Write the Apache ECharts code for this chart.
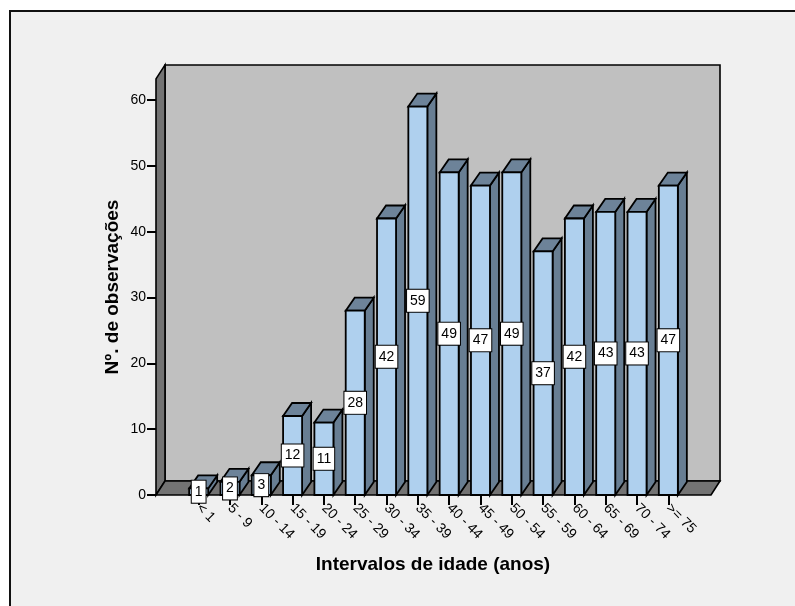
<!DOCTYPE html>
<html>
<head>
<meta charset="utf-8">
<script src="https://cdn.jsdelivr.net/npm/echarts@6/dist/echarts.min.js"></script>
<style>
  html, body { margin: 0; padding: 0; background: #ffffff; }
  #chart { width: 795px; height: 606px; }
</style>
</head>
<body>
<div id="chart"></div>
<script>
// Age groups and number of observations in each
const categories = ['< 1', '5 - 9', '10 - 14', '15 - 19', '20 - 24', '25 - 29', '30 - 34', '35 - 39',
                    '40 - 44', '45 - 49', '50 - 54', '55 - 59', '60 - 64', '65 - 69', '70 - 74', '>= 75'];
const counts = [1, 2, 3, 12, 11, 28, 42, 59, 49, 47, 49, 37, 42, 43, 43, 47];
const yMin = 0;
const yMax = 60;
const yStep = 10;

const FONT = '"Liberation Sans", Arial, Helvetica, sans-serif';

// 3D look: depth offset of walls and bars, in pixels
const WALL_DX = 9, WALL_DY = -14;
const BAR_DX = 9, BAR_DY = -13;
const FLOOR_PAD = 27;      // floor extends past the outer category bands
const WALL_TOP = 63.2;     // front edge of the left wall, in axis units
const BAR_RATIO = 0.607;   // front face width as a share of the band

const chart = echarts.init(document.getElementById('chart'), null, { renderer: 'canvas' });

function renderWalls(params, api) {
  const cs = params.coordSys;
  const L = cs.x - FLOOR_PAD;
  const R = cs.x + cs.width + FLOOR_PAD;
  const B = cs.y + cs.height;
  const T = api.coord([0, WALL_TOP])[1];
  const stroke = { stroke: '#000', lineWidth: 1.6, lineJoin: 'miter' };
  return {
    type: 'group',
    children: [
      { type: 'rect', shape: { x: L + WALL_DX, y: T + WALL_DY, width: R - L, height: B - T },
        style: Object.assign({ fill: '#c0c0c0' }, stroke) },
      { type: 'polygon', shape: { points: [[L, T], [L + WALL_DX, T + WALL_DY], [L + WALL_DX, B + WALL_DY], [L, B]] },
        style: Object.assign({ fill: '#737373' }, stroke) },
      { type: 'polygon', shape: { points: [[L, B], [L + WALL_DX, B + WALL_DY], [R + WALL_DX, B + WALL_DY], [R, B]] },
        style: Object.assign({ fill: '#737373' }, stroke) }
    ]
  };
}

function renderBar(params, api) {
  const idx = api.value(0);
  const val = api.value(1);
  const base = api.coord([idx, 0]);
  const top = api.coord([idx, val]);
  const mid = api.coord([idx, val / 2]);
  const w = api.size([1, 0])[0] * BAR_RATIO;
  const x0 = base[0] - w / 2, x1 = base[0] + w / 2;
  const y0 = top[1], y1 = base[1];
  const stroke = { stroke: '#000', lineWidth: 1.8, lineJoin: 'miter' };
  return {
    type: 'group',
    children: [
      { type: 'polygon', shape: { points: [[x1, y0], [x1 + BAR_DX, y0 + BAR_DY], [x1 + BAR_DX, y1 + BAR_DY], [x1, y1]] },
        style: Object.assign({ fill: '#687e93' }, stroke) },
      { type: 'polygon', shape: { points: [[x0, y0], [x0 + BAR_DX, y0 + BAR_DY], [x1 + BAR_DX, y0 + BAR_DY], [x1, y0]] },
        style: Object.assign({ fill: '#6d8399' }, stroke) },
      { type: 'rect', shape: { x: x0, y: y0, width: w, height: y1 - y0 },
        style: Object.assign({ fill: '#afd0ee' }, stroke) },
      { type: 'text', z2: 10,
        style: { text: String(val), x: mid[0], y: mid[1], align: 'center', verticalAlign: 'middle',
                 font: '14px ' + FONT, fill: '#000',
                 backgroundColor: '#ffffff', borderColor: '#000', borderWidth: 1, padding: [4, 3, 4, 3] } }
    ]
  };
}

const option = {
  animation: false,
  backgroundColor: '#ffffff',
  graphic: [
    { type: 'rect', z: -10, shape: { x: 10, y: 11, width: 820, height: 640 },
      style: { fill: '#f0f0f0', stroke: '#111', lineWidth: 2 } },
    { type: 'text', z: 10, x: 433, y: 565,
      style: { text: 'Intervalos de idade (anos)', x: 0, y: 0, align: 'center', verticalAlign: 'middle',
               font: 'bold 19px ' + FONT, fill: '#000' } },
    { type: 'text', z: 10, rotation: Math.PI / 2, x: 113, y: 287,
      style: { text: 'Nº. de observações', x: 0, y: 0, align: 'center', verticalAlign: 'middle',
               font: 'bold 19px ' + FONT, fill: '#000' } }
  ],
  grid: { left: 183, right: 111, top: 100, bottom: 111, containLabel: false },
  xAxis: {
    type: 'category',
    data: categories,
    boundaryGap: true,
    axisLine: { show: false },
    axisTick: { show: true, alignWithLabel: true, length: 10, lineStyle: { color: '#000', width: 2 } },
    axisLabel: { rotate: -45, margin: 11, interval: 0, color: '#000', fontSize: 14, fontFamily: FONT },
    splitLine: { show: false }
  },
  yAxis: {
    type: 'value',
    min: yMin, max: yMax, interval: yStep,
    offset: FLOOR_PAD,
    axisLine: { show: false },
    axisTick: { show: true, length: 9, lineStyle: { color: '#000', width: 2 } },
    axisLabel: { margin: 10, color: '#000', fontSize: 14, fontFamily: FONT },
    splitLine: { show: false }
  },
  series: [
    { type: 'custom', name: 'walls', z: 1, clip: false, silent: true,
      renderItem: renderWalls, data: [[0, 0]] },
    { type: 'custom', name: 'Nº. de observações', z: 2, clip: false,
      renderItem: renderBar, encode: { x: 0, y: 1 },
      data: counts.map(function (v, i) { return [i, v]; }) }
  ]
};

chart.setOption(option);
</script>
</body>
</html>
